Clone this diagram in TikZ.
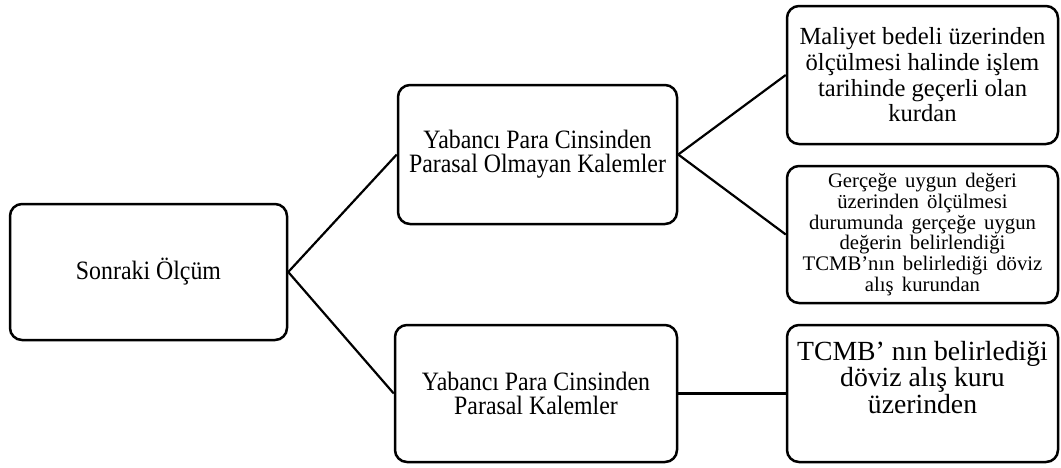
\documentclass[tikz,border=0pt]{standalone}
\usepackage{fontspec}
\setmainfont{Liberation Serif}
\newfontfamily\condfont[FakeStretch=0.9]{Liberation Serif}
\newcommand\widegaps{\spaceskip=0.4em\relax}
\begin{document}
\begin{tikzpicture}[x=1pt,y=-1pt,
  box/.style={draw, line width=2.5pt, rounded corners=12pt, align=center,
    inner sep=0pt, minimum width=#1},
  box/.default=277pt,
  link/.style={line width=2.2pt},
  cond/.style={font=\condfont\fontsize{26.5}{24.3}\selectfont},
  mid/.style={font=\fontsize{24.6}{25.7}\selectfont},
  small/.style={font=\fontsize{20.7}{20.8}\selectfont},
  large/.style={font=\fontsize{27.7}{26.5}\selectfont}]
\useasboundingbox (0,0) rectangle (1061,467);

% root
\node[box=277pt, minimum height=136pt, cond] (A) at (148.5,272) {Sonraki Ölçüm};

% second level
\node[box=279pt, minimum height=139pt, cond] (B) at (537.5,154.5)
  {Yabancı Para Cinsinden\\Parasal Olmayan Kalemler};
\node[box=282pt, minimum height=137pt, cond] (E) at (536,393.5)
  {Yabancı Para Cinsinden\\Parasal Kalemler};

% leaves
\node[box=271pt, minimum height=138pt, mid] (C) at (922.5,75)
  {Maliyet bedeli üzerinden\\ölçülmesi halinde işlem\\tarihinde geçerli olan\\kurdan};
\node[box=271pt, minimum height=137pt, small] (D) at (922.5,234.5)
  {\widegaps Gerçeğe uygun değeri\\\widegaps üzerinden ölçülmesi\\\widegaps durumunda gerçeğe uygun\\\widegaps değerin belirlendiği\\\widegaps TCMB’nın belirlediği döviz\\\widegaps alış kurundan};
\node[box=271pt, minimum height=137pt] (F) at (922.5,393.5) {};
\node[large, align=center, inner sep=0pt, anchor=north] (Ft) at (922.5,341)
  {TCMB’ nın belirlediği\\döviz alış kuru\\üzerinden};

% connectors
\draw[link] (A.east) -- (B.west);
\draw[link] (A.east) -- (E.west);
\draw[link] (B.east) -- (C.west);
\draw[link] (B.east) -- (D.west);
\draw[link] (E.east) -- (F.west);
\end{tikzpicture}
\end{document}
